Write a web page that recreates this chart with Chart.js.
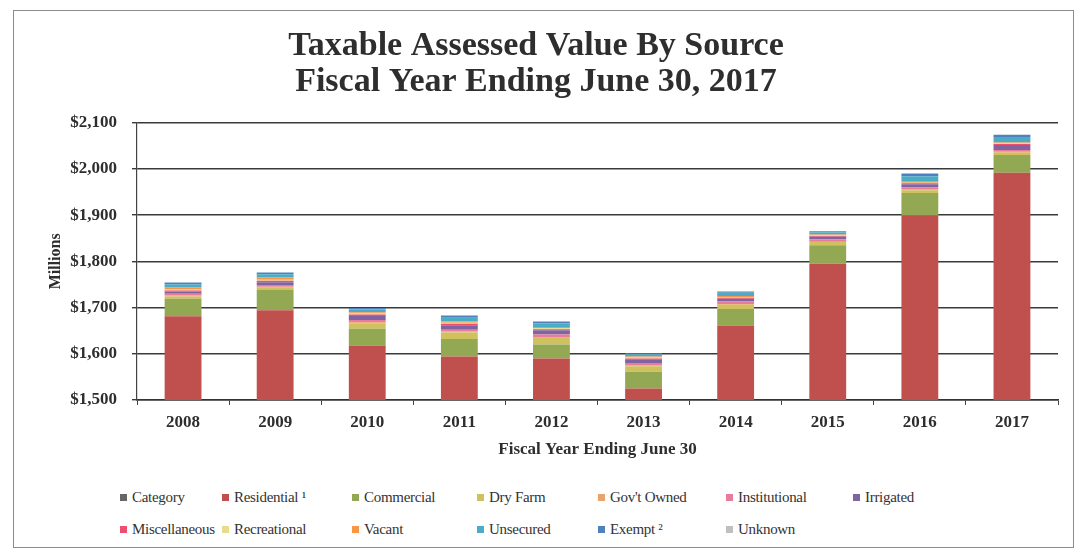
<!DOCTYPE html>
<html>
<head>
<meta charset="utf-8">
<script src="https://cdn.jsdelivr.net/npm/chart.js@4.4.0/dist/chart.umd.min.js"></script>
<style>
  body{margin:0;background:#fff;width:1078px;height:555px;overflow:hidden;position:relative;font-family:"Liberation Serif",serif}
  #frame{position:absolute;left:13px;top:10px;width:1059px;height:536px;border:1.5px solid #8c8c8c}
  #chart{position:absolute;left:0;top:0}
  #legend{position:absolute;left:120px;top:489px;display:grid;grid-template-columns:102px 130px 125px 121px 128px 127px auto;row-gap:15px;font-size:15px;color:#333;letter-spacing:-0.3px}
  .item{display:flex;align-items:center;white-space:nowrap}
  .sw{width:7px;height:7px;margin-right:5px;flex:none}
</style>
</head>
<body>
<div id="frame"></div>
<canvas id="chart" width="1078" height="470"></canvas>
<div id="legend"></div>
<script>
// values in millions of dollars
const years=['2008','2009','2010','2011','2012','2013','2014','2015','2016','2017'];
const category     =[0,0,0,0,0,0,0,0,0,0];
const residential  =[1681,1694,1618,1594,1590,1525,1661,1795,1900,1992];
const commercial   =[38,44,36,38,30,36,36,40,48,38];
const dryFarm      =[5,5,12,14,14,12,9,7,6,5];
const govtOwned    =[2,2,2,2,2,2,2,2,2,2];
const institutional=[4,4,5,4,6,5,5,4,4,4];
const irrigated    =[5,6,9,10,9,8,6,5,7,11];
const miscellaneous=[2,3,3,3,2,2,2,2,2,2];
const recreational =[2,2,2,2,2,2,2,1,1,1];
const vacant       =[5,5,3,3,3,2,2,2,2,2];
const unsecured    =[6,7,6,8,8,5,7,5,12,12];
const exempt       =[4,4,3,5,4,2,3,2,6,5];
const unknown      =[0,0,0,0,0,0,0,0,0,0];
const yTicks=[1500,1600,1700,1800,1900,2000,2100];

const seriesList=[
  {label:'Category',data:category,color:'#666666'},
  {label:'Residential \u00b9',data:residential,color:'#c0504d'},
  {label:'Commercial',data:commercial,color:'#93a853'},
  {label:'Dry Farm',data:dryFarm,color:'#cfc25e'},
  {label:"Gov't Owned",data:govtOwned,color:'#e8a46c'},
  {label:'Institutional',data:institutional,color:'#e87c9c'},
  {label:'Irrigated',data:irrigated,color:'#8064a2'},
  {label:'Miscellaneous',data:miscellaneous,color:'#ee4f6e'},
  {label:'Recreational',data:recreational,color:'#e6dc8a'},
  {label:'Vacant',data:vacant,color:'#f79646'},
  {label:'Unsecured',data:unsecured,color:'#4bacc6'},
  {label:'Exempt \u00b2',data:exempt,color:'#4f81bd'},
  {label:'Unknown',data:unknown,color:'#bfbfbf'}
];

const serif='"Liberation Serif", serif';
const ink='#2e2e2e';

const chart=new Chart(document.getElementById('chart'),{
  type:'bar',
  data:{
    labels:years,
    datasets:seriesList.map(s=>({label:s.label,data:s.data,backgroundColor:s.color,borderWidth:0}))
  },
  options:{
    responsive:false,
    animation:false,
    layout:{padding:{left:14,right:20,top:14,bottom:0}},
    datasets:{bar:{categoryPercentage:1,barPercentage:0.4}},
    plugins:{
      legend:{display:false},
      tooltip:{enabled:false},
      title:{
        display:true,
        text:['Taxable Assessed Value By Source','Fiscal Year Ending June 30, 2017'],
        color:ink,
        font:{family:serif,size:34,weight:'bold',lineHeight:1.04},
        padding:{top:15,bottom:23}
      }
    },
    scales:{
      x:{
        stacked:true,
        grid:{display:true,drawOnChartArea:false,offset:true,color:'#444',tickLength:5,lineWidth:1},
        border:{display:true,color:'#333',width:1.5},
        ticks:{color:ink,font:{family:serif,size:17,weight:'bold'},padding:7},
        title:{display:true,text:'Fiscal Year Ending June 30',color:ink,font:{family:serif,size:17,weight:'bold'},padding:{top:4,bottom:10}},
        afterFit:s=>{s.height=70;}
      },
      y:{
        stacked:true,
        min:yTicks[0],max:yTicks[yTicks.length-1],
        afterBuildTicks:s=>{s.ticks=yTicks.map(v=>({value:v}));},
        grid:{color:'#3a3a3a',lineWidth:1.4,tickLength:5},
        border:{display:true,color:'#444',width:1.2},
        ticks:{color:ink,font:{family:serif,size:17,weight:'bold'},padding:15,
          callback:v=>'$'+v.toLocaleString('en-US')},
        title:{display:true,text:'Millions',color:ink,font:{family:serif,size:16,weight:'bold'},padding:{top:32,bottom:0}},
        afterFit:s=>{s.width=123;}
      }
    }
  }
});

// legend laid out on a fixed grid like the original
const legendEl=document.getElementById('legend');
chart.data.datasets.forEach(ds=>{
  const item=document.createElement('div');
  item.className='item';
  item.innerHTML='<span class="sw" style="background:'+ds.backgroundColor+'"></span>'+ds.label;
  legendEl.appendChild(item);
});
</script>
</body>
</html>
